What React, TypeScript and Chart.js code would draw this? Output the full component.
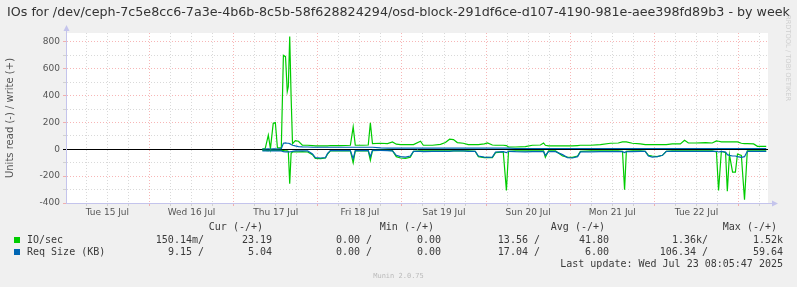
import React, { useEffect, useRef } from 'react';
import { Chart, registerables } from 'chart.js';

Chart.register(...registerables);

const W = 797;
const H = 287;

// ---------- texts ----------
const titleText =
  'IOs for /dev/ceph-7c5e8cc6-7a3e-4b6b-8c5b-58f628824294/osd-block-291df6ce-d107-4190-981e-aee398fd89b3 - by week';
const yAxisTitle = 'Units read (-) / write (+)';
const dayLabels = ['Tue 15 Jul', 'Wed 16 Jul', 'Thu 17 Jul', 'Fri 18 Jul', 'Sat 19 Jul', 'Sun 20 Jul', 'Mon 21 Jul', 'Tue 22 Jul'];
const dayLabelHours = [12, 36, 60, 84, 108, 132, 156, 180];
const yLabelValues = [-400, -200, 0, 200, 400, 600, 800];

const legendHeaders = ['Cur (-/+)', 'Min (-/+)', 'Avg (-/+)', 'Max (-/+)'];
const legendNames = ['IO/sec', 'Req Size (KB)'];
const legendColors = ['#00CC00', '#0066B3'];
const curValues = [['150.14m/', '23.19'], ['9.15 /', '5.04']];
const minValues = [['0.00 /', '0.00'], ['0.00 /', '0.00']];
const avgValues = [['13.56 /', '41.80'], ['17.04 /', '6.00']];
const maxValues = [['1.36k/', '1.52k'], ['106.34 /', '59.64']];
const lastUpdate = 'Last update: Wed Jul 23 08:05:47 2025';
const muninVersion = 'Munin 2.0.75';
const watermark = 'RRDTOOL / TOBI OETIKER';

// ---------- data (hours since Tue 15 Jul 00:00) ----------
const hours = [
  56.2, 57.0, 57.9, 58.5, 59.3, 59.9, 60.5, 61.6, 62.2, 62.8,
  63.3, 63.6, 64.0, 64.4, 64.8, 65.6, 66.5, 67.6, 69.1, 70.5,
  71.3, 72.8, 74.2, 74.8, 75.6, 78.5, 81.3, 82.1, 82.7, 84.7,
  86.4, 87.0, 87.6, 89.9, 91.9, 93.3, 94.4, 95.6, 97.0, 98.4,
  99.3, 101.3, 102.1, 104.7, 107.0, 108.4, 109.6, 110.7, 111.8, 113.5,
  114.9, 116.9, 117.8, 119.5, 120.4, 121.8, 122.7, 124.9, 125.8, 126.4,
  128.4, 131.2, 133.2, 135.5, 136.4, 136.9, 137.8, 139.8, 141.8, 143.2,
  144.6, 146.1, 146.9, 149.8, 152.6, 155.5, 157.7, 158.9, 159.5, 160.0,
  161.7, 164.0, 165.4, 166.3, 167.4, 168.8, 170.3, 171.4, 173.1, 175.4,
  176.6, 177.7, 179.7, 182.6, 184.5, 185.7, 186.3, 187.1, 188.3, 188.8,
  189.4, 190.3, 191.1, 191.7, 192.8, 193.7, 194.5, 196.3, 197.4, 199.9,
];

// IO/sec write (+)
const ioWrite = [
  3, 5, 105, 5, 195, 200, 10, 10, 700, 690,
  430, 466, 840, 390, 42, 65, 60, 30, 30, 28,
  25, 25, 25, 25, 28, 28, 30, 167, 30, 30,
  32, 197, 42, 45, 42, 55, 38, 35, 35, 35,
  35, 60, 30, 30, 37, 50, 75, 72, 50, 45,
  35, 35, 35, 40, 47, 32, 30, 30, 28, 17,
  17, 20, 30, 32, 47, 30, 25, 25, 25, 25,
  25, 28, 30, 30, 35, 45, 47, 55, 56, 55,
  45, 40, 35, 35, 35, 35, 35, 35, 40, 40,
  67, 47, 47, 50, 47, 62, 60, 55, 55, 55,
  55, 55, 55, 55, 45, 42, 42, 40, 22, 22,
];

// IO/sec read (-)
const ioRead = [
  8, 8, 10, 6, 8, 8, 8, 8, 10, 12,
  12, 15, 257, 30, 20, 20, 20, 18, 20, 40,
  68, 70, 65, 35, 12, 12, 12, 100, 12, 12,
  12, 82, 10, 8, 8, 10, 55, 65, 68, 60,
  15, 12, 12, 12, 12, 12, 12, 12, 12, 12,
  12, 15, 55, 62, 60, 62, 25, 20, 307, 15,
  12, 12, 12, 12, 12, 60, 12, 12, 50, 58,
  60, 50, 15, 12, 12, 12, 12, 15, 302, 15,
  12, 12, 15, 45, 50, 55, 45, 15, 12, 12,
  12, 12, 12, 12, 12, 20, 307, 15, 25, 312,
  40, 170, 170, 35, 45, 376, 12, 12, 12, 12,
];

// Req Size (KB) write (+)
const reqWrite = [
  2, 2, 3, 2, 3, 3, 2, 5, 45, 47,
  45, 45, 42, 35, 30, 25, 20, 18, 17, 15,
  15, 15, 15, 15, 15, 15, 15, 15, 15, 15,
  15, 15, 15, 10, 8, 8, 8, 8, 8, 8,
  8, 8, 8, 8, 8, 8, 8, 8, 8, 8,
  8, 8, 8, 8, 8, 8, 8, 8, 8, 8,
  6, 6, 6, 6, 6, 6, 6, 6, 6, 6,
  6, 6, 6, 6, 6, 6, 6, 6, 6, 6,
  6, 6, 6, 6, 6, 6, 6, 6, 6, 6,
  6, 6, 6, 6, 6, 6, 6, 6, 6, 6,
  6, 6, 6, 6, 6, 6, 6, 6, 6, 6,
];

// Req Size (KB) read (-)
const reqRead = [
  12, 12, 12, 12, 12, 12, 12, 12, 18, 20,
  20, 20, 20, 18, 15, 12, 12, 12, 12, 35,
  62, 65, 62, 30, 10, 10, 10, 70, 10, 10,
  10, 55, 8, 8, 10, 12, 45, 55, 58, 50,
  15, 15, 18, 15, 15, 15, 15, 12, 12, 12,
  15, 15, 50, 58, 60, 58, 20, 18, 25, 15,
  18, 20, 18, 18, 18, 45, 18, 18, 40, 62,
  65, 55, 20, 20, 18, 18, 18, 18, 25, 18,
  18, 15, 15, 50, 58, 55, 45, 15, 15, 15,
  15, 15, 15, 15, 15, 15, 20, 15, 20, 40,
  45, 50, 50, 55, 60, 55, 15, 15, 15, 15,
];

// ---------- style ----------
const FONT = "'DejaVu Sans', sans-serif";
const MONO = "'DejaVu Sans Mono', monospace";
const AXIS = '#C4C4EC';
const MAJOR = 'rgba(240, 110, 110, 0.5)';
const MINOR = 'rgba(170, 170, 170, 0.45)';
const GREEN = '#00CC00';
const BLUE = '#0066B3';

const xGridHours: number[] = [];
for (let h = 6; h < 200; h += 6) xGridHours.push(h);
const yGridValues: number[] = [];
for (let v = -400; v <= 850; v += 50) yGridValues.push(v);

const plotBg = {
  id: 'plotBg',
  beforeDraw(chart: any) {
    const { ctx, chartArea: a } = chart;
    ctx.save();
    ctx.fillStyle = '#FFFFFF';
    ctx.fillRect(a.left, a.top, a.right - a.left, a.bottom - a.top);
    ctx.restore();
  },
};

const axisArrows = {
  id: 'axisArrows',
  afterDraw(chart: any) {
    const { ctx, chartArea: a } = chart;
    ctx.save();
    ctx.strokeStyle = AXIS;
    ctx.fillStyle = AXIS;
    ctx.lineWidth = 1;
    const by = Math.round(a.bottom) + 0.5;
    ctx.beginPath();
    ctx.moveTo(a.right, by);
    ctx.lineTo(a.right + 5, by);
    ctx.stroke();
    ctx.beginPath();
    ctx.moveTo(a.right + 10, by);
    ctx.lineTo(a.right + 4, by - 3);
    ctx.lineTo(a.right + 4, by + 3);
    ctx.closePath();
    ctx.fill();
    const lx = Math.round(a.left) + 0.5;
    ctx.beginPath();
    ctx.moveTo(lx, a.top);
    ctx.lineTo(lx, a.top - 3);
    ctx.stroke();
    ctx.beginPath();
    ctx.moveTo(lx, a.top - 8);
    ctx.lineTo(lx - 3, a.top - 2);
    ctx.lineTo(lx + 3, a.top - 2);
    ctx.closePath();
    ctx.fill();
    ctx.restore();
  },
};

const series = (label: string, vals: number[], sign: number, color: string) => ({
  label,
  data: hours.map((h, i) => ({ x: h, y: sign * vals[i] })),
  borderColor: color,
  backgroundColor: color,
  borderWidth: 1.2,
  pointRadius: 0,
  fill: false,
  tension: 0,
});

const RText = ({ right, cy, children, style }: any) => (
  <div
    style={{
      position: 'absolute',
      right: W - right,
      top: cy - 6,
      lineHeight: '12px',
      whiteSpace: 'pre',
      font: `10px ${MONO}`,
      color: '#3a3a3a',
      ...style,
    }}
  >
    {children}
  </div>
);

export default function App() {
  const ref = useRef<HTMLCanvasElement | null>(null);

  useEffect(() => {
    if (!ref.current) return;
    const chart = new Chart(ref.current, {
      type: 'line',
      data: {
        datasets: [
          series('Req Size write', reqWrite, 1, BLUE),
          series('Req Size read', reqRead, -1, BLUE),
          series('IO/sec write', ioWrite, 1, GREEN),
          series('IO/sec read', ioRead, -1, GREEN),
        ],
      },
      options: {
        animation: false,
        responsive: false,
        maintainAspectRatio: false,
        layout: { padding: { left: 0, right: 29, top: 33, bottom: 0 } },
        plugins: {
          legend: { display: false },
          tooltip: { enabled: false },
          title: { display: false },
        },
        scales: {
          x: {
            type: 'linear',
            min: 0.2,
            max: 200.4,
            afterBuildTicks: (s: any) => {
              s.ticks = xGridHours.map((v) => ({ value: v }));
            },
            afterFit: (s: any) => {
              s.height = 84;
            },
            ticks: {
              autoSkip: false,
              maxRotation: 0,
              minRotation: 0,
              padding: 1,
              color: '#555',
              font: { family: FONT, size: 9 },
              callback: (v: any) => {
                const i = dayLabelHours.indexOf(Number(v));
                return i >= 0 ? dayLabels[i] : '';
              },
            },
            grid: {
              color: (c: any) => (c.tick && c.tick.value % 24 === 0 ? MAJOR : MINOR),
              tickColor: (c: any) => (c.tick && c.tick.value % 24 === 0 ? MAJOR : MINOR),
              tickLength: 3,
              lineWidth: 1,
            },
            border: { color: AXIS, width: 1, dash: [1, 2] },
          },
          y: {
            type: 'linear',
            min: -400,
            max: 866,
            afterBuildTicks: (s: any) => {
              s.ticks = yGridValues.map((v) => ({ value: v }));
            },
            afterFit: (s: any) => {
              s.width = 66;
            },
            ticks: {
              padding: 3,
              color: '#555',
              font: { family: FONT, size: 9 },
              callback: (v: any) => (yLabelValues.includes(Number(v)) ? String(v) : ''),
            },
            grid: {
              color: (c: any) => {
                const v = c.tick ? c.tick.value : null;
                if (v === 0) return '#000000';
                if (v === -400) return 'rgba(0,0,0,0)';
                return v % 200 === 0 ? MAJOR : MINOR;
              },
              tickColor: (c: any) => {
                const v = c.tick ? c.tick.value : null;
                if (v === 0) return '#000000';
                return v % 200 === 0 ? MAJOR : MINOR;
              },
              tickLength: 3,
              lineWidth: 1,
            },
            border: {
              color: AXIS,
              width: 1,
              dash: (c: any) => (c.tick && c.tick.value === 0 ? [] : [1, 2]),
            },
            title: {
              display: true,
              text: yAxisTitle,
              color: '#555',
              font: { family: FONT, size: 10 },
              padding: { top: 4, bottom: 0 },
            },
          },
        },
      } as any,
      plugins: [plotBg, axisArrows],
    });
    return () => chart.destroy();
  }, []);

  const headerEnds = [263, 434, 605, 777];
  const valueEnds = [[204, 272], [372, 441], [540, 609], [708, 783]];
  const rowCenters = [240, 252];
  const columns = [curValues, minValues, avgValues, maxValues];

  return (
    <div
      style={{
        position: 'fixed',
        left: 0,
        top: 0,
        width: W,
        height: H,
        background: '#F0F0F0',
        overflow: 'hidden',
      }}
    >
      <canvas
        ref={ref}
        width={W}
        height={H}
        style={{ position: 'absolute', left: 0, top: 0, width: W, height: H }}
      />
      <div
        style={{
          position: 'absolute',
          left: 0,
          top: 4,
          width: W,
          textAlign: 'center',
          font: `12.7px ${FONT}`,
          lineHeight: '16px',
          color: '#333',
          whiteSpace: 'nowrap',
        }}
      >
        {titleText}
      </div>
      <div
        style={{
          position: 'absolute',
          left: 783,
          top: 15,
          writingMode: 'vertical-rl',
          font: `6.7px ${FONT}`,
          lineHeight: '9px',
          color: '#CFCFCF',
          whiteSpace: 'nowrap',
        }}
      >
        {watermark}
      </div>
      {legendHeaders.map((t, i) => (
        <RText key={'h' + i} right={headerEnds[i]} cy={227}>
          {t}
        </RText>
      ))}
      {legendNames.map((n, r) => (
        <React.Fragment key={'r' + r}>
          <div
            style={{
              position: 'absolute',
              left: 14,
              top: rowCenters[r] - 3,
              width: 6,
              height: 6,
              background: legendColors[r],
            }}
          />
          <div
            style={{
              position: 'absolute',
              left: 27,
              top: rowCenters[r] - 6,
              lineHeight: '12px',
              whiteSpace: 'pre',
              font: `10px ${MONO}`,
              color: '#3a3a3a',
            }}
          >
            {n}
          </div>
          {columns.map((col, c) => (
            <React.Fragment key={'c' + c}>
              <RText right={valueEnds[c][0]} cy={rowCenters[r]}>
                {col[r][0]}
              </RText>
              <RText right={valueEnds[c][1]} cy={rowCenters[r]}>
                {col[r][1]}
              </RText>
            </React.Fragment>
          ))}
        </React.Fragment>
      ))}
      <RText right={783} cy={264}>
        {lastUpdate}
      </RText>
      <div
        style={{
          position: 'absolute',
          left: 0,
          width: W,
          top: 271,
          textAlign: 'center',
          font: `7px ${MONO}`,
          lineHeight: '10px',
          color: '#BBBBBB',
          whiteSpace: 'pre',
        }}
      >
        {muninVersion}
      </div>
    </div>
  );
}
